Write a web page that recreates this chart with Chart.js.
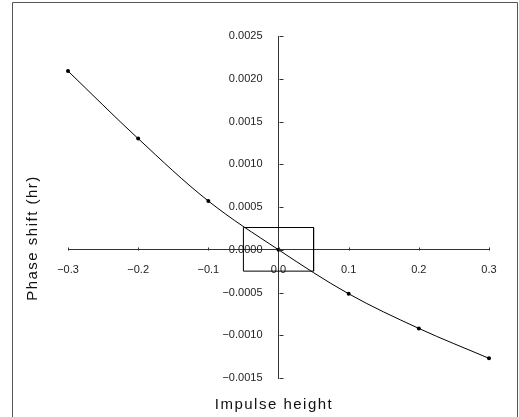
<!DOCTYPE html>
<html>
<head>
<meta charset="utf-8">
<script src="https://cdn.jsdelivr.net/npm/chart.js@4/dist/chart.umd.min.js"></script>
<style>
  html, body { margin: 0; padding: 0; background: #fff; }
  #wrap { position: relative; width: 519px; height: 417px; }
  canvas { display: block; }
</style>
</head>
<body>
<div id="wrap"><canvas id="c" width="519" height="417"></canvas></div>
<script>
// Data
const impulseHeights = [-0.3, -0.2, -0.1, 0.0, 0.1, 0.2, 0.3];
const phaseShifts = [0.00209, 0.00130, 0.00057, 0.0, -0.000515, -0.00092, -0.00127];
// Zoom rectangle around the origin
const boxX = [-0.05, -0.05, 0.05, 0.05, -0.05];
const boxY = [-0.00025, 0.00026, 0.00026, -0.00025, -0.00025];
// Axis ranges / ticks
const xTicks = [-0.3, -0.2, -0.1, 0.0, 0.1, 0.2, 0.3];
const yTicks = [-0.0015, -0.0010, -0.0005, 0.0, 0.0005, 0.0010, 0.0015, 0.0020, 0.0025];
const xTitle = 'Impulse height';
const yTitle = 'Phase shift (hr)';

const fmtMinus = s => s.replace('-', '\u2212');
const tickFont = { family: '"Liberation Sans", Arial, sans-serif', size: 11 };

const decor = {
  id: 'decor',
  afterDraw(chart) {
    const ctx = chart.ctx;
    const xs = chart.scales.x, ys = chart.scales.y;
    const x0 = Math.round(xs.getPixelForValue(0)) + 0.5;
    const y0 = Math.round(ys.getPixelForValue(0)) + 0.5;
    ctx.save();
    ctx.strokeStyle = '#333';
    ctx.lineWidth = 1;
    // tick marks: y ticks to the right, x ticks upward
    ctx.beginPath();
    yTicks.forEach(v => {
      const py = Math.round(ys.getPixelForValue(v)) + 0.5;
      ctx.moveTo(x0, py); ctx.lineTo(x0 + 4, py);
    });
    xTicks.forEach(v => {
      const px = Math.round(xs.getPixelForValue(v)) + 0.5;
      ctx.moveTo(px, y0); ctx.lineTo(px, y0 - 3);
    });
    ctx.stroke();
    // outer frame
    ctx.strokeStyle = '#555';
    ctx.beginPath();
    ctx.moveTo(12.5, 417); ctx.lineTo(12.5, 2.5); ctx.lineTo(517.5, 2.5); ctx.lineTo(517.5, 417);
    ctx.stroke();
    // axis titles
    ctx.fillStyle = '#111';
    ctx.font = '15px "Liberation Sans", Arial, sans-serif';
    ctx.letterSpacing = '1.5px';
    ctx.textAlign = 'center';
    ctx.textBaseline = 'alphabetic';
    ctx.fillText(xTitle, 274, 409);
    ctx.translate(37, 238);
    ctx.rotate(-Math.PI / 2);
    ctx.fillText(yTitle, 0, 0);
    ctx.restore();
  }
};

new Chart(document.getElementById('c'), {
  type: 'line',
  data: {
    datasets: [
      {
        data: impulseHeights.map((x, i) => ({ x, y: phaseShifts[i] })),
        borderColor: '#000',
        borderWidth: 1,
        pointRadius: 2,
        pointBackgroundColor: '#000',
        pointBorderColor: '#000',
        pointBorderWidth: 0,
        tension: 0.35,
        clip: false
      },
      {
        data: boxX.map((x, i) => ({ x, y: boxY[i] })),
        borderColor: '#000',
        borderWidth: 1,
        pointRadius: 0,
        tension: 0,
        clip: false
      }
    ]
  },
  options: {
    responsive: false,
    animation: false,
    events: [],
    layout: { padding: { left: 68, right: 30, top: 36, bottom: 39 } },
    plugins: { legend: { display: false }, tooltip: { enabled: false } },
    scales: {
      x: {
        type: 'linear',
        position: { y: 0 },
        min: -0.3, max: 0.3,
        afterBuildTicks: s => { s.ticks = xTicks.map(v => ({ value: v })); },
        ticks: {
          font: tickFont,
          color: '#222',
          padding: 14,
          maxRotation: 0,
          autoSkip: false,
          callback: v => fmtMinus(Number(v).toFixed(1))
        },
        grid: { drawOnChartArea: false, drawTicks: false },
        border: { display: true, color: '#333', width: 1 }
      },
      // axis that carries the tick labels, placed 16px left of the zero line
      y: {
        type: 'linear',
        position: { x: -0.0228 },
        min: -0.0015, max: 0.0025,
        afterBuildTicks: s => { s.ticks = yTicks.map(v => ({ value: v })); },
        ticks: {
          font: tickFont,
          color: '#222',
          autoSkip: false,
          callback: v => fmtMinus(Number(v).toFixed(4))
        },
        grid: { drawOnChartArea: false, drawTicks: false },
        border: { display: false }
      },
      // the visible vertical axis line at x = 0
      yLine: {
        type: 'linear',
        position: { x: 0 },
        min: -0.0015, max: 0.0025,
        ticks: { display: false },
        grid: { drawOnChartArea: false, drawTicks: false },
        border: { display: true, color: '#333', width: 1 }
      }
    }
  },
  plugins: [decor]
});
</script>
</body>
</html>
